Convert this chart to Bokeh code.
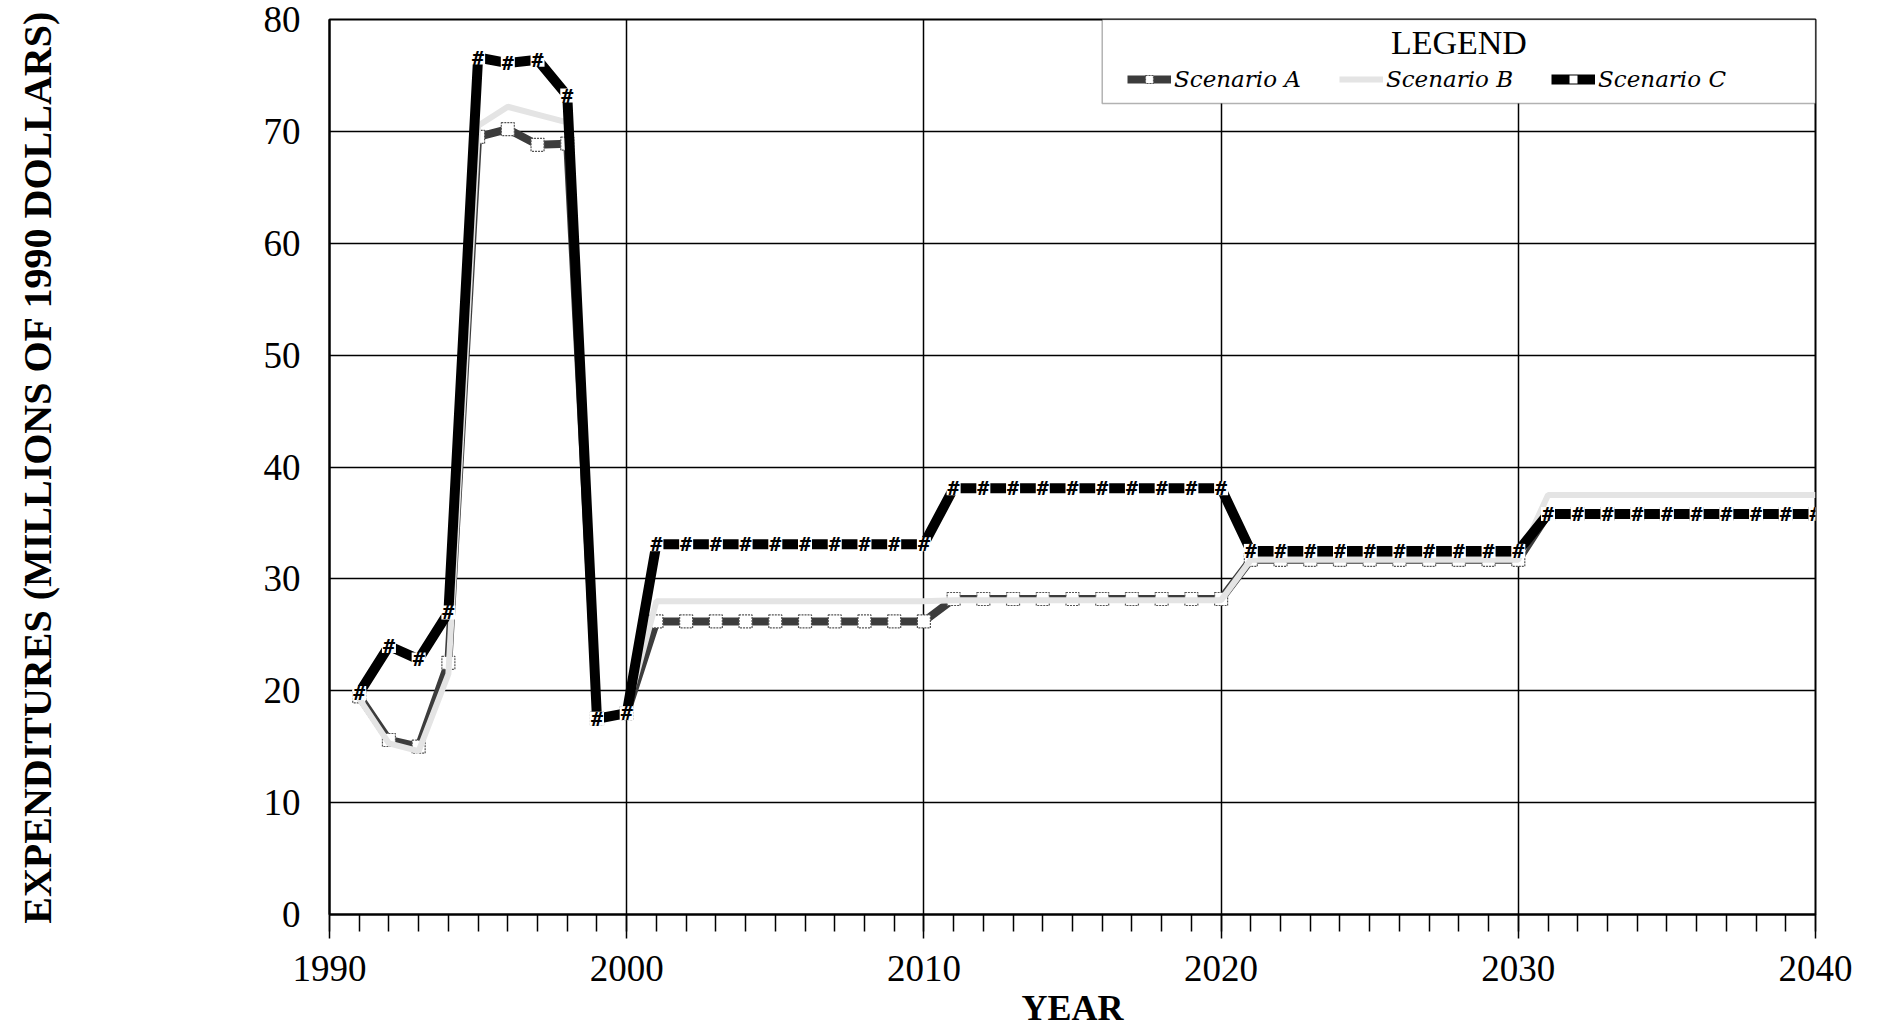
from bokeh.plotting import figure
from bokeh.models import (ColumnDataSource, SingleIntervalTicker, Legend, LegendItem,
                          BoxAnnotation, Label)
from bokeh.core.properties import value
from bokeh.embed import file_html
from bokeh.resources import INLINE

# ---- data ----
years = list(range(1991, 2041))

scenario_a = ([19.5, 15.6, 15.0, 22.5, 69.5, 70.2, 68.8, 68.9, 17.5, 18.0]
              + [26.2] * 10 + [28.2] * 10 + [31.7] * 10 + [35.8] * 10)
scenario_b = ([19.3, 15.3, 14.6, 21.5, 70.5, 72.2, 71.5, 70.8, 17.5, 18.2]
              + [28.0] * 10 + [28.1] * 10 + [31.7] * 10 + [37.5] * 10)
scenario_c = ([19.8, 24.0, 22.8, 27.0, 76.6, 76.1, 76.4, 73.2, 17.5, 18.0]
              + [33.1] * 10 + [38.1] * 10 + [32.5] * 10 + [35.8] * 10)

series_names = ["Scenario A", "Scenario B", "Scenario C"]
x_ticks_interval = 10
y_ticks_interval = 10

src = ColumnDataSource(dict(year=years, a=scenario_a, b=scenario_b, c=scenario_c,
                            hash=["#"] * len(years)))

SERIF = "Liberation Serif"

p = figure(frame_width=1486, frame_height=895, x_range=(1990, 2040), y_range=(0, 80),
           output_backend="svg", toolbar_location=None,
           min_border_left=329, min_border_right=53, min_border_top=19, min_border_bottom=10)
p.background_fill_color = "white"
p.border_fill_color = "white"
p.outline_line_color = "black"
p.outline_line_width = 2

# axes
xa = p.xaxis[0]
xa.ticker = SingleIntervalTicker(interval=x_ticks_interval, num_minor_ticks=10)
xa.axis_label = "YEAR"
xa.axis_label_text_font = SERIF
xa.axis_label_text_font_style = "bold"
xa.axis_label_text_font_size = "36px"
xa.axis_label_text_color = "black"
xa.axis_label_standoff = 4
xa.major_label_text_font = SERIF
xa.major_label_text_font_size = "37px"
xa.major_label_text_color = "black"
xa.major_label_standoff = 17
xa.major_tick_out = 24
xa.major_tick_in = 0
xa.minor_tick_out = 17
xa.minor_tick_in = 0
xa.major_tick_line_width = 1.5
xa.minor_tick_line_width = 1.5
xa.major_tick_line_color = "black"
xa.minor_tick_line_color = "black"
xa.axis_line_width = 2
xa.axis_line_color = "black"

ya = p.yaxis[0]
ya.ticker = SingleIntervalTicker(interval=y_ticks_interval, num_minor_ticks=0)
ya.axis_label = "EXPENDITURES (MILLIONS OF 1990 DOLLARS)"
ya.axis_label_text_font = SERIF
ya.axis_label_text_font_style = "bold"
ya.axis_label_text_font_size = "40px"
ya.axis_label_text_color = "black"
ya.axis_label_standoff = 201
ya.major_label_text_font = SERIF
ya.major_label_text_font_size = "37px"
ya.major_label_text_color = "black"
ya.major_label_standoff = 29
ya.major_tick_out = 0
ya.major_tick_in = 0
ya.minor_tick_line_color = None
ya.axis_line_width = 2
ya.axis_line_color = "black"

# grid
p.xgrid.ticker = SingleIntervalTicker(interval=x_ticks_interval)
p.ygrid.ticker = SingleIntervalTicker(interval=y_ticks_interval)
for g in (p.xgrid[0], p.ygrid[0]):
    g.grid_line_color = "black"
    g.grid_line_width = 1.5
    g.grid_line_alpha = 1.0

# Scenario A: dark stippled line with open squares
la = p.line("year", "a", source=src, line_color="#3c3c3c", line_width=8)
sa = p.scatter("year", "a", source=src, marker="square", size=13, fill_color="white",
               line_color="#555555", line_width=1.2, line_dash="2 1")

# Scenario B: very light line
lb = p.line("year", "b", source=src, line_color="#e4e4e4", line_width=6)

# Scenario C: thick black line with # markers
lc = p.line("year", "c", source=src, line_color="black", line_width=10)
sc = p.scatter("year", "c", source=src, marker="square", size=14, fill_color="white",
               line_color=None)
tc = p.text("year", "c", text="hash", source=src, text_font=value("DejaVu Sans Mono"),
            text_font_size="20px", text_font_style="bold", text_align="center",
            text_baseline="middle", text_color="black")

# legend box + title
box = BoxAnnotation(left=2016, right=2040, bottom=72.5, top=80, fill_color="white",
                    fill_alpha=1.0, line_color="black", line_width=1.5)
p.add_layout(box)
p.add_layout(Label(x=2028, y=77.9, text="LEGEND", text_font=SERIF, text_font_size="34px",
                   text_align="center", text_baseline="middle", text_color="black"))

legend = Legend(items=[LegendItem(label=series_names[0], renderers=[la, sa]),
                       LegendItem(label=series_names[1], renderers=[lb]),
                       LegendItem(label=series_names[2], renderers=[lc, sc])],
                orientation="horizontal", location=(798, 822),
                padding=0, margin=0, spacing=38, label_standoff=3,
                glyph_width=44, glyph_height=20,
                border_line_alpha=0, background_fill_alpha=0,
                label_text_font="DejaVu Serif", label_text_font_style="italic",
                label_text_font_size="23px", label_text_color="black")
p.add_layout(legend, "center")

open("out.html", "w").write(file_html(p, INLINE))
